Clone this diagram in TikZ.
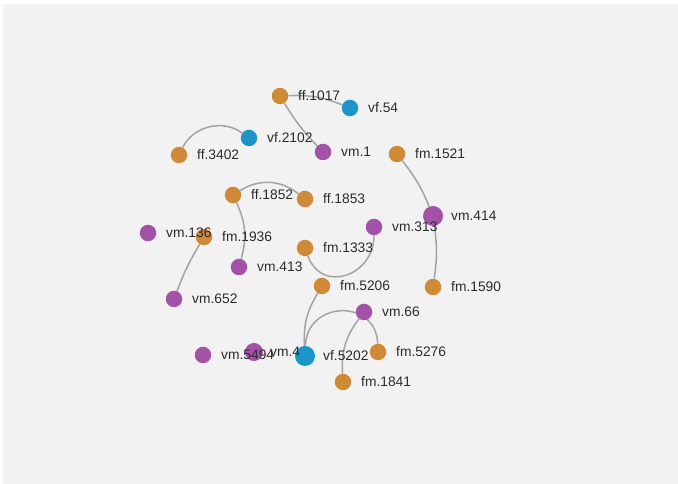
\documentclass[tikz,border=0pt]{standalone}
\usepackage{fontspec}
\setmainfont{Liberation Sans}
\usetikzlibrary{positioning}
\pgfdeclarelayer{background}
\pgfsetlayers{background,main}
\definecolor{bgray}{HTML}{F2F2F2}
\definecolor{egray}{HTML}{A3A3A3}
\definecolor{morange}{HTML}{D08A34}
\definecolor{mblue}{HTML}{1A96C8}
\definecolor{mpurple}{HTML}{A452A8}
\definecolor{tgray}{HTML}{2B2B2B}
\tikzset{circ/.style = {fill, circle, inner sep = 0, minimum size = 16.5},
  bigcirc/.style = {circ, minimum size = 20},
  fnode/.style = {circ, morange},
  vnode/.style = {circ, mpurple},
  bnode/.style = {circ, mblue},
  lbl/.style = {inner sep = 0, text = tgray, font = \fontsize{13.8}{16}\selectfont},
  edge/.style = {egray, line width = 1.5}}

\begin{document}
\begin{tikzpicture}[x=1pt, y=1pt]
    \useasboundingbox (0, 0) rectangle (678, 484);
    % nodes
    \node [fnode] (ff1017) at (280, 388) {};
    \node [bnode] (vf54) at (350, 376) {};
    \node [bnode] (vf2102) at (249, 346) {};
    \node [fnode] (ff3402) at (179, 329) {};
    \node [vnode] (vm1) at (323, 332) {};
    \node [fnode] (fm1521) at (397, 330) {};
    \node [fnode] (ff1852) at (233, 289) {};
    \node [fnode] (ff1853) at (305, 285) {};
    \node [vnode, bigcirc] (vm414) at (433, 268) {};
    \node [vnode] (vm136) at (148, 251) {};
    \node [fnode] (fm1936) at (204, 247) {};
    \node [vnode] (vm313) at (374, 257) {};
    \node [fnode] (fm1333) at (305, 236) {};
    \node [vnode] (vm413) at (239, 217) {};
    \node [vnode] (vm652) at (174, 185) {};
    \node [fnode] (fm5206) at (322, 198) {};
    \node [fnode] (fm1590) at (433, 197) {};
    \node [vnode] (vm66) at (364, 172) {};
    \node [vnode] (vm5494) at (203, 129) {};
    \node [vnode, minimum size = 18] (vm4) at (254, 132) {};
    \node [bnode, bigcirc] (vf5202) at (305, 128) {};
    \node [fnode] (fm5276) at (378, 132) {};
    \node [fnode] (fm1841) at (343, 102) {};
    % edges, behind the nodes
    \begin{pgfonlayer}{background}
      \fill [bgray] (3, 0) rectangle (678, 480);
      \draw [edge] (ff1017) to [bend left = 12] (vf54);
      \draw [edge] (ff1017) to [bend right = 6] (vm1);
      \draw [edge] (ff3402) to [bend left = 50] (vf2102);
      \draw [edge] (ff1852) to [bend left = 35] (ff1853);
      \draw [edge] (ff1852) to [bend left = 20] (vm413);
      \draw [edge] (fm1521) to [bend left = 8] (vm414);
      \draw [edge] (vm414) to [bend left = 8] (fm1590);
      \draw [edge] (fm1936) to [bend right = 5] (vm652);
      \draw [edge] (fm1333) to [out = -70, in = -90, looseness = 1.5] (vm313);
      \draw [edge] (fm5206) to [bend right = 17] (vf5202);
      \draw [edge] (vf5202) to [out = 88, in = 92, looseness = 1.6] (fm5276);
      \draw [edge] (vm66) to [bend right = 20] (fm1841);
    \end{pgfonlayer}
    % labels
    \node [lbl, right = 18 of ff1017.center] (ff1017-l) {ff.1017};
    \node [lbl, right = 18 of vf54.center] (vf54-l) {vf.54};
    \node [lbl, right = 18 of vf2102.center] (vf2102-l) {vf.2102};
    \node [lbl, right = 18 of ff3402.center] (ff3402-l) {ff.3402};
    \node [lbl, right = 18 of vm1.center] (vm1-l) {vm.1};
    \node [lbl, right = 18 of fm1521.center] (fm1521-l) {fm.1521};
    \node [lbl, right = 18 of ff1852.center] (ff1852-l) {ff.1852};
    \node [lbl, right = 18 of ff1853.center] (ff1853-l) {ff.1853};
    \node [lbl, right = 18 of vm414.center] (vm414-l) {vm.414};
    \node [lbl, right = 18 of vm136.center] (vm136-l) {vm.136};
    \node [lbl, right = 18 of fm1936.center] (fm1936-l) {fm.1936};
    \node [lbl, right = 18 of vm313.center] (vm313-l) {vm.313};
    \node [lbl, right = 18 of fm1333.center] (fm1333-l) {fm.1333};
    \node [lbl, right = 18 of vm413.center] (vm413-l) {vm.413};
    \node [lbl, right = 18 of vm652.center] (vm652-l) {vm.652};
    \node [lbl, right = 18 of fm5206.center] (fm5206-l) {fm.5206};
    \node [lbl, right = 18 of fm1590.center] (fm1590-l) {fm.1590};
    \node [lbl, right = 18 of vm66.center] (vm66-l) {vm.66};
    \node [lbl, right = 18 of vm5494.center] (vm5494-l) {vm.5494};
    \node [lbl, right = 16 of vm4.center] (vm4-l) {vm.4};
    \node [lbl, right = 18 of vf5202.center] (vf5202-l) {vf.5202};
    \node [lbl, right = 18 of fm5276.center] (fm5276-l) {fm.5276};
    \node [lbl, right = 18 of fm1841.center] (fm1841-l) {fm.1841};
  \end{tikzpicture}
\end{document}
